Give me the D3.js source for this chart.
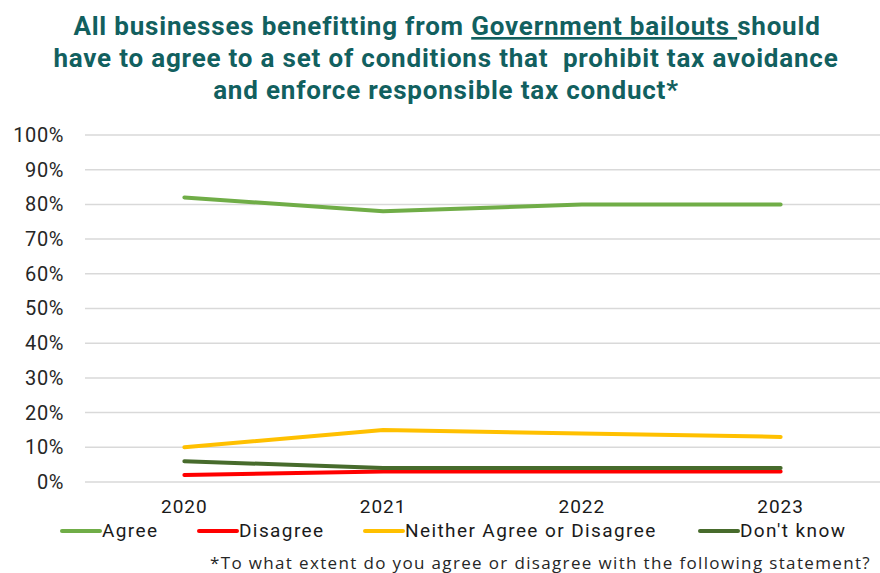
<!DOCTYPE html>
<html>
<head>
<meta charset="utf-8">
<script src="https://cdn.jsdelivr.net/npm/d3@7"></script>
<style>
  html, body { margin: 0; padding: 0; background: #fff; }
  svg { display: block; }
</style>
</head>
<body>
<svg id="chart" width="880" height="573"></svg>
<script>
// Survey years and share of respondents per answer
const years = ["2020", "2021", "2022", "2023"];
const agree = [0.82, 0.78, 0.80, 0.80];
const disagree = [0.02, 0.03, 0.03, 0.03];
const neither = [0.10, 0.15, 0.14, 0.13];
const dontKnow = [0.06, 0.04, 0.04, 0.04];
const yTicks = [0, 0.1, 0.2, 0.3, 0.4, 0.5, 0.6, 0.7, 0.8, 0.9, 1.0];
const seriesNames = ["Agree", "Disagree", "Neither Agree or Disagree", "Don't know"];

const colors = ["#70ad47", "#ff0000", "#ffc000", "#476b2c"];
const series = [agree, disagree, neither, dontKnow].map((values, i) => ({
  name: seriesNames[i], values, color: colors[i]
}));

const svg = d3.select("#chart");
const plot = { left: 85, right: 880, top: 135, bottom: 482 };
const bodyFont = "Roboto, 'Open Sans', sans-serif";
const labelFont = "'Open Sans', 'Noto Sans', sans-serif";

// Title
const titleColor = "#12605f";
const title = svg.append("g")
  .attr("font-family", bodyFont)
  .attr("font-weight", "bold").attr("font-size", 26).attr("fill", titleColor)
  .attr("letter-spacing", 0.8)
  .attr("text-anchor", "middle");
const t1 = title.append("text").attr("x", 447).attr("y", 35);
t1.append("tspan").text("All businesses benefitting from ");
t1.append("tspan").attr("text-decoration", "underline").text("Government bailouts\u00a0");
t1.append("tspan").text("should");
title.append("text").attr("x", 446).attr("y", 67)
  .text("have to agree to a set of conditions that \u00a0prohibit tax avoidance");
title.append("text").attr("x", 446).attr("y", 99)
  .text("and enforce responsible tax conduct*");

// Scales
const x = d3.scaleBand().domain(years).range([plot.left, plot.right]);
const y = d3.scaleLinear().domain([0, 1]).range([plot.bottom, plot.top]);

// Gridlines
svg.append("g")
  .selectAll("line").data(yTicks).join("line")
  .attr("x1", plot.left).attr("x2", plot.right)
  .attr("y1", d => y(d)).attr("y2", d => y(d))
  .attr("stroke", "#d9d9d9").attr("stroke-width", 1.5);

// Y axis labels
const yAxis = d3.axisLeft(y).tickValues(yTicks).tickFormat(d3.format(".0%")).tickSize(0).tickPadding(21);
svg.append("g").attr("transform", `translate(${plot.left},0)`).call(yAxis)
  .call(g => g.select(".domain").remove())
  .call(g => g.selectAll("text")
    .attr("font-family", bodyFont)
    .attr("letter-spacing", 0.6)
    .attr("font-size", 20).attr("fill", "#262626"));

// X axis labels
const xAxis = d3.axisBottom(x).tickSize(0).tickPadding(18);
svg.append("g").attr("transform", `translate(0,${plot.bottom})`).call(xAxis)
  .call(g => g.select(".domain").remove())
  .call(g => g.selectAll("text")
    .attr("font-family", bodyFont)
    .attr("letter-spacing", 1)
    .attr("font-size", 19).attr("fill", "#1a1a1a"));

// Lines
const line = d3.line()
  .x((d, i) => x(years[i]) + x.bandwidth() / 2)
  .y(d => y(d));
svg.append("g").selectAll("path").data(series).join("path")
  .attr("d", s => line(s.values))
  .attr("fill", "none")
  .attr("stroke", s => s.color)
  .attr("stroke-width", 4)
  .attr("stroke-linecap", "round")
  .attr("stroke-linejoin", "round");

// Legend
const legendX = [62, 199, 365, 700];
const li = svg.append("g").selectAll("g").data(series).join("g")
  .attr("transform", (d, i) => `translate(${legendX[i]},531)`);
li.append("line").attr("x1", 0).attr("x2", 38).attr("y1", 0).attr("y2", 0)
  .attr("stroke", d => d.color).attr("stroke-width", 4).attr("stroke-linecap", "round");
li.append("text").attr("x", 40).attr("y", 6)
  .attr("font-family", bodyFont)
  .attr("letter-spacing", 1.4)
  .attr("font-size", 19).attr("fill", "#1a1a1a")
  .text(d => d.name);

// Footnote
svg.append("text").attr("x", 210).attr("y", 569)
  .attr("font-family", labelFont)
  .attr("letter-spacing", 1.35)
  .attr("font-size", 17).attr("fill", "#262626")
  .text("*To what extent do you agree or disagree with the following statement?");
</script>
</body>
</html>
